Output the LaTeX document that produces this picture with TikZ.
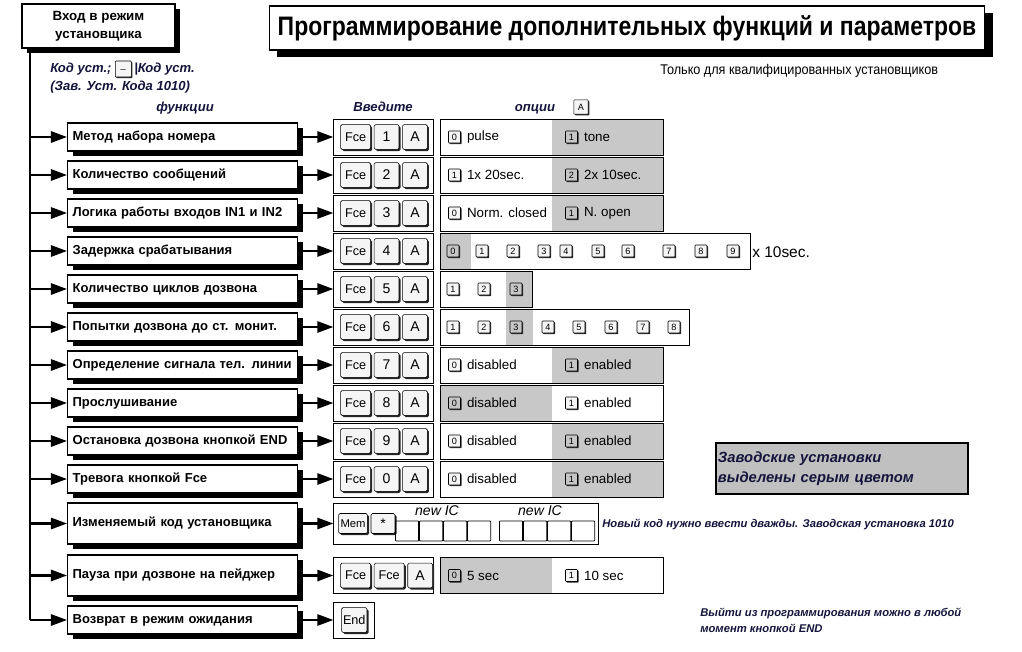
\documentclass[tikz,border=0pt]{standalone}
\usepackage{fontspec}
\setmainfont{Liberation Sans}
\usepackage{graphicx}
\usetikzlibrary{arrows.meta, positioning, shadows}
\definecolor{factorygrey}{RGB}{200, 200, 200}
\definecolor{legendgrey}{RGB}{192, 192, 192}
\definecolor{noteblue}{RGB}{20, 20, 60}

\begin{document}
\begin{tikzpicture}[x=0.025cm, y=-0.025cm,
  entry/.style={rectangle, draw, line width=1pt, fill=white, align=center,
                minimum width=3.825cm, minimum height=1.1cm, font=\fontsize{9.5}{12.5}\selectfont\bfseries,
                drop shadow={fill=black, opacity=1, shadow xshift=0.12cm, shadow yshift=-0.12cm}},
  titlebox/.style={rectangle, draw, line width=1pt, fill=white,
                   minimum width=17.875cm, minimum height=1.1cm, font=\fontsize{19}{22}\selectfont\bfseries,
                   drop shadow={fill=black, opacity=1, shadow xshift=0.2cm, shadow yshift=-0.17cm}},
  func/.style={rectangle, draw, line width=0.9pt, fill=white, anchor=west,
               text width=5.5cm, inner xsep=0.125cm, minimum height=0.7cm, align=left,
               font=\fontsize{9.25}{11}\selectfont\bfseries,
               drop shadow={fill=black, opacity=1, shadow xshift=0.13cm, shadow yshift=-0.13cm}},
  kbox/.style={rectangle, draw, line width=0.6pt, minimum width=2.5cm, minimum height=0.9cm},
  obox/.style={rectangle, draw, line width=0.6pt, minimum width=5.575cm, minimum height=0.9cm, inner sep=0pt},
  key/.style={rectangle, draw, rounded corners=1pt, fill=gray!8, minimum size=0.62cm, inner sep=1pt,
              font=\fontsize{10}{10}\selectfont,
              drop shadow={fill=black!85, opacity=1, shadow xshift=0.04cm, shadow yshift=-0.04cm}},
  fkey/.style={key, minimum width=0.75cm, font=\fontsize{9}{9}\selectfont},
  okey/.style={rectangle, draw, rounded corners=0.5pt, fill=gray!8, minimum size=0.3cm, inner sep=0pt,
               font=\fontsize{6.5}{6.5}\selectfont,
               drop shadow={fill=black!85, opacity=1, shadow xshift=0.03cm, shadow yshift=-0.03cm}},
  okeyg/.style={okey, fill=gray!45},
  otext/.style={inner sep=0pt, font=\fontsize{9.5}{11}\selectfont},
  note/.style={inner sep=0pt, text=noteblue, font=\fontsize{9.3}{11}\selectfont\bfseries\itshape},
  smallnote/.style={inner sep=0pt, text=noteblue, align=left, font=\fontsize{8}{11.5}\selectfont\bfseries\itshape},
  greypart/.style 2 args={path picture={\fill[factorygrey] ([xshift=#1]path picture bounding box.south west)
                          rectangle ([xshift=#2]path picture bounding box.north west);}},
  cell/.style={rectangle, draw, line width=0.6pt, rounded corners=0.5pt, minimum width=0.58cm,
               minimum height=0.5cm, inner sep=0pt},
  arr/.style={-{Triangle[length=0.4cm, width=0.28cm]}, line width=1.5pt}
]
\useasboundingbox (0,0) rectangle (1022,652);

% header
\node[entry] (entry) at (98.5,26) {Вход в режим\\установщика};
\node[titlebox] (title) at (627,28) {\scalebox{0.86}[1]{Программирование дополнительных функций и параметров}};
\node[inner sep=0pt, anchor=west, font=\fontsize{10}{12}\selectfont] (only) at (660,71) {\scalebox{0.9}[1]{Только для квалифицированных установщиков}};

\node[note, anchor=west] (code1) at (50,69) {Код уст.;};
\node[okey, minimum size=0.4cm, right=0.08cm of code1] (blank) {\_};
\node[note, right=0.06cm of blank] (code2) {|Код уст.};
\node[note, anchor=west] (code3) at (50,87) {(Зав. Уст. Кода 1010)};

\node[note, anchor=base] (hfunc) at (185,111) {функции};
\node[note, anchor=base] (henter) at (383,111) {Введите};
\node[note, anchor=base] (hopt) at (535,111) {опции};
\node[okey, minimum size=0.36cm] (hkey) at (581,107) {A};

% functions
\node[func] (F1) at (67,137) {Метод набора номера};
\node[func] (F2) at (67,175) {Количество сообщений};
\node[func] (F3) at (67,213) {Логика работы входов IN1 и IN2};
\node[func] (F4) at (67,251) {Задержка срабатывания};
\node[func] (F5) at (67,289) {Количество циклов дозвона};
\node[func] (F6) at (67,327) {Попытки дозвона до ст. монит.};
\node[func] (F7) at (67,365) {Определение сигнала тел. линии};
\node[func] (F8) at (67,403) {Прослушивание};
\node[func] (F9) at (67,441) {Остановка дозвона кнопкой END};
\node[func] (F10) at (67,479) {Тревога кнопкой Fce};
\node[func, minimum height=1.025cm] (F11) at (67,523.5) {Изменяемый код установщика};
\node[func, minimum height=1.025cm] (F12) at (67,575.5) {Пауза при дозвоне на пейджер};
\node[func] (F13) at (67,620) {Возврат в режим ожидания};

% key sequences
\node[kbox, right=0.875cm of F1] (K1) {};
\node[fkey, right=0.175cm of K1.west] (K1f) {Fce};
\node[key, right=0.075cm of K1f] (K1n) {1};
\node[key, right=0.075cm of K1n] (K1a) {A};
\node[kbox, right=0.875cm of F2] (K2) {};
\node[fkey, right=0.175cm of K2.west] (K2f) {Fce};
\node[key, right=0.075cm of K2f] (K2n) {2};
\node[key, right=0.075cm of K2n] (K2a) {A};
\node[kbox, right=0.875cm of F3] (K3) {};
\node[fkey, right=0.175cm of K3.west] (K3f) {Fce};
\node[key, right=0.075cm of K3f] (K3n) {3};
\node[key, right=0.075cm of K3n] (K3a) {A};
\node[kbox, right=0.875cm of F4] (K4) {};
\node[fkey, right=0.175cm of K4.west] (K4f) {Fce};
\node[key, right=0.075cm of K4f] (K4n) {4};
\node[key, right=0.075cm of K4n] (K4a) {A};
\node[kbox, right=0.875cm of F5] (K5) {};
\node[fkey, right=0.175cm of K5.west] (K5f) {Fce};
\node[key, right=0.075cm of K5f] (K5n) {5};
\node[key, right=0.075cm of K5n] (K5a) {A};
\node[kbox, right=0.875cm of F6] (K6) {};
\node[fkey, right=0.175cm of K6.west] (K6f) {Fce};
\node[key, right=0.075cm of K6f] (K6n) {6};
\node[key, right=0.075cm of K6n] (K6a) {A};
\node[kbox, right=0.875cm of F7] (K7) {};
\node[fkey, right=0.175cm of K7.west] (K7f) {Fce};
\node[key, right=0.075cm of K7f] (K7n) {7};
\node[key, right=0.075cm of K7n] (K7a) {A};
\node[kbox, right=0.875cm of F8] (K8) {};
\node[fkey, right=0.175cm of K8.west] (K8f) {Fce};
\node[key, right=0.075cm of K8f] (K8n) {8};
\node[key, right=0.075cm of K8n] (K8a) {A};
\node[kbox, right=0.875cm of F9] (K9) {};
\node[fkey, right=0.175cm of K9.west] (K9f) {Fce};
\node[key, right=0.075cm of K9f] (K9n) {9};
\node[key, right=0.075cm of K9n] (K9a) {A};
\node[kbox, right=0.875cm of F10] (K10) {};
\node[fkey, right=0.175cm of K10.west] (K10f) {Fce};
\node[key, right=0.075cm of K10f] (K10n) {0};
\node[key, right=0.075cm of K10n] (K10a) {A};
\node[kbox, minimum width=6.625cm, minimum height=1.025cm, right=0.875cm of F11] (K11) {};
\node[key, minimum width=0.72cm, minimum height=0.5cm, font=\fontsize{8}{8}\selectfont, right=0.125cm of K11.west] (K11m) {Mem};
\node[key, minimum width=0.6cm, minimum height=0.5cm, right=0.075cm of K11m] (K11s) {*};
\node[kbox, right=0.875cm of F12] (K12) {};
\node[fkey, right=0.175cm of K12.west] (K12f) {Fce};
\node[fkey, right=0.075cm of K12f] (K12g) {Fce};
\node[key, right=0.075cm of K12g] (K12a) {A};
\node[kbox, minimum width=1.025cm, right=0.875cm of F13] (K13) {};
\node[key, minimum width=0.6cm, font=\fontsize{9}{9}\selectfont] (K13e) at (K13) {End};

% new installer code cells
\node[cell, anchor=west] (C1) at (395,531) {};
\node[cell, right=0pt of C1] (C2) {};
\node[cell, right=0pt of C2] (C3) {};
\node[cell, right=0pt of C3] (C4) {};
\node[cell, anchor=west] (C5) at (499,531) {};
\node[cell, right=0pt of C5] (C6) {};
\node[cell, right=0pt of C6] (C7) {};
\node[cell, right=0pt of C7] (C8) {};
\node[inner sep=0pt, font=\fontsize{10}{12}\selectfont\itshape] (new1) at (437,511) {new IC};
\node[inner sep=0pt, font=\fontsize{10}{12}\selectfont\itshape] (new2) at (540,511) {new IC};
\node[smallnote, anchor=west] (twice) at (602,524) {Новый код нужно ввести дважды. Заводская установка 1010};

% options
\node[obox, greypart={2.775cm}{5.575cm}, right=0.15cm of K1] (O1) {};
\node[okey, right=0.2cm of O1.west] (O1a) {0};
\node[otext, right=0.15cm of O1a] (O1at) {pulse};
\node[okeyg, right=3.125cm of O1.west] (O1b) {1};
\node[otext, right=0.15cm of O1b] (O1bt) {tone};

\node[obox, greypart={2.775cm}{5.575cm}, right=0.15cm of K2] (O2) {};
\node[okey, right=0.2cm of O2.west] (O2a) {1};
\node[otext, right=0.15cm of O2a] (O2at) {1x 20sec.};
\node[okeyg, right=3.125cm of O2.west] (O2b) {2};
\node[otext, right=0.15cm of O2b] (O2bt) {2x 10sec.};

\node[obox, greypart={2.775cm}{5.575cm}, right=0.15cm of K3] (O3) {};
\node[okey, right=0.2cm of O3.west] (O3a) {0};
\node[otext, right=0.15cm of O3a] (O3at) {Norm. closed};
\node[okeyg, right=3.125cm of O3.west] (O3b) {1};
\node[otext, right=0.15cm of O3b] (O3bt) {N. open};

\node[obox, minimum width=7.75cm, greypart={0cm}{0.75cm}, right=0.15cm of K4] (O4) {};
\node[okeyg] (O4k0) at (453,251) {0};
\node[okey] (O4k1) at (482,251) {1};
\node[okey] (O4k2) at (513,251) {2};
\node[okey] (O4k3) at (544,251) {3};
\node[okey] (O4k4) at (566,251) {4};
\node[okey] (O4k5) at (598,251) {5};
\node[okey] (O4k6) at (628,251) {6};
\node[okey] (O4k7) at (669,251) {7};
\node[okey] (O4k8) at (701,251) {8};
\node[okey] (O4k9) at (733,251) {9};
\node[otext, anchor=west, font=\fontsize{11}{12}\selectfont] (O4unit) at (752,252) {x 10sec.};

\node[obox, minimum width=2.3cm, greypart={1.625cm}{2.3cm}, right=0.15cm of K5] (O5) {};
\node[okey] (O5k1) at (453,289) {1};
\node[okey] (O5k2) at (484,289) {2};
\node[okeyg] (O5k3) at (516,289) {3};

\node[obox, minimum width=6.225cm, greypart={1.625cm}{2.3cm}, right=0.15cm of K6] (O6) {};
\node[okey] (O6k1) at (453,327) {1};
\node[okey] (O6k2) at (484,327) {2};
\node[okeyg] (O6k3) at (516,327) {3};
\node[okey] (O6k4) at (548,327) {4};
\node[okey] (O6k5) at (579,327) {5};
\node[okey] (O6k6) at (611,327) {6};
\node[okey] (O6k7) at (643,327) {7};
\node[okey] (O6k8) at (674,327) {8};

\node[obox, greypart={2.775cm}{5.575cm}, right=0.15cm of K7] (O7) {};
\node[okey, right=0.2cm of O7.west] (O7a) {0};
\node[otext, right=0.15cm of O7a] (O7at) {disabled};
\node[okeyg, right=3.125cm of O7.west] (O7b) {1};
\node[otext, right=0.15cm of O7b] (O7bt) {enabled};

\node[obox, greypart={0cm}{2.775cm}, right=0.15cm of K8] (O8) {};
\node[okeyg, right=0.2cm of O8.west] (O8a) {0};
\node[otext, right=0.15cm of O8a] (O8at) {disabled};
\node[okey, right=3.125cm of O8.west] (O8b) {1};
\node[otext, right=0.15cm of O8b] (O8bt) {enabled};

\node[obox, greypart={2.775cm}{5.575cm}, right=0.15cm of K9] (O9) {};
\node[okey, right=0.2cm of O9.west] (O9a) {0};
\node[otext, right=0.15cm of O9a] (O9at) {disabled};
\node[okeyg, right=3.125cm of O9.west] (O9b) {1};
\node[otext, right=0.15cm of O9b] (O9bt) {enabled};

\node[obox, greypart={2.775cm}{5.575cm}, right=0.15cm of K10] (O10) {};
\node[okey, right=0.2cm of O10.west] (O10a) {0};
\node[otext, right=0.15cm of O10a] (O10at) {disabled};
\node[okeyg, right=3.125cm of O10.west] (O10b) {1};
\node[otext, right=0.15cm of O10b] (O10bt) {enabled};

\node[obox, greypart={0cm}{2.775cm}, right=0.15cm of K12] (O12) {};
\node[okeyg, right=0.2cm of O12.west] (O12a) {0};
\node[otext, right=0.15cm of O12a] (O12at) {5 sec};
\node[okey, right=3.125cm of O12.west] (O12b) {1};
\node[otext, right=0.15cm of O12b] (O12bt) {10 sec};

% legend and exit note
\node[rectangle, draw, line width=0.8pt, fill=legendgrey, minimum width=6.3cm, minimum height=1.275cm,
      text width=6.2cm, inner xsep=0.05cm, align=left, text=noteblue,
      font=\fontsize{10.5}{14}\selectfont\bfseries\itshape] (legend) at (842,468.5) {Заводские установки\\выделены серым цветом};
\node[smallnote, anchor=north west] (exitnote) at (700,608) {Выйти из программирования можно в любой\\момент кнопкой END};

% connectors
\coordinate (spine) at (30,48);
\coordinate (spineend) at (30,620);
\draw[line width=1.5pt] (spine) -- (spineend);
\draw[arr] (F1.west -| spine) -- (F1.west);
\draw[arr] (F2.west -| spine) -- (F2.west);
\draw[arr] (F3.west -| spine) -- (F3.west);
\draw[arr] (F4.west -| spine) -- (F4.west);
\draw[arr] (F5.west -| spine) -- (F5.west);
\draw[arr] (F6.west -| spine) -- (F6.west);
\draw[arr] (F7.west -| spine) -- (F7.west);
\draw[arr] (F8.west -| spine) -- (F8.west);
\draw[arr] (F9.west -| spine) -- (F9.west);
\draw[arr] (F10.west -| spine) -- (F10.west);
\draw[arr] (F11.west -| spine) -- (F11.west);
\draw[arr] (F12.west -| spine) -- (F12.west);
\draw[arr] (F13.west -| spine) -- (F13.west);
\draw[arr] (F1) -- (K1);
\draw[arr] (F2) -- (K2);
\draw[arr] (F3) -- (K3);
\draw[arr] (F4) -- (K4);
\draw[arr] (F5) -- (K5);
\draw[arr] (F6) -- (K6);
\draw[arr] (F7) -- (K7);
\draw[arr] (F8) -- (K8);
\draw[arr] (F9) -- (K9);
\draw[arr] (F10) -- (K10);
\draw[arr] (F11) -- (K11);
\draw[arr] (F12) -- (K12);
\draw[arr] (F13) -- (K13);
\end{tikzpicture}
\end{document}
